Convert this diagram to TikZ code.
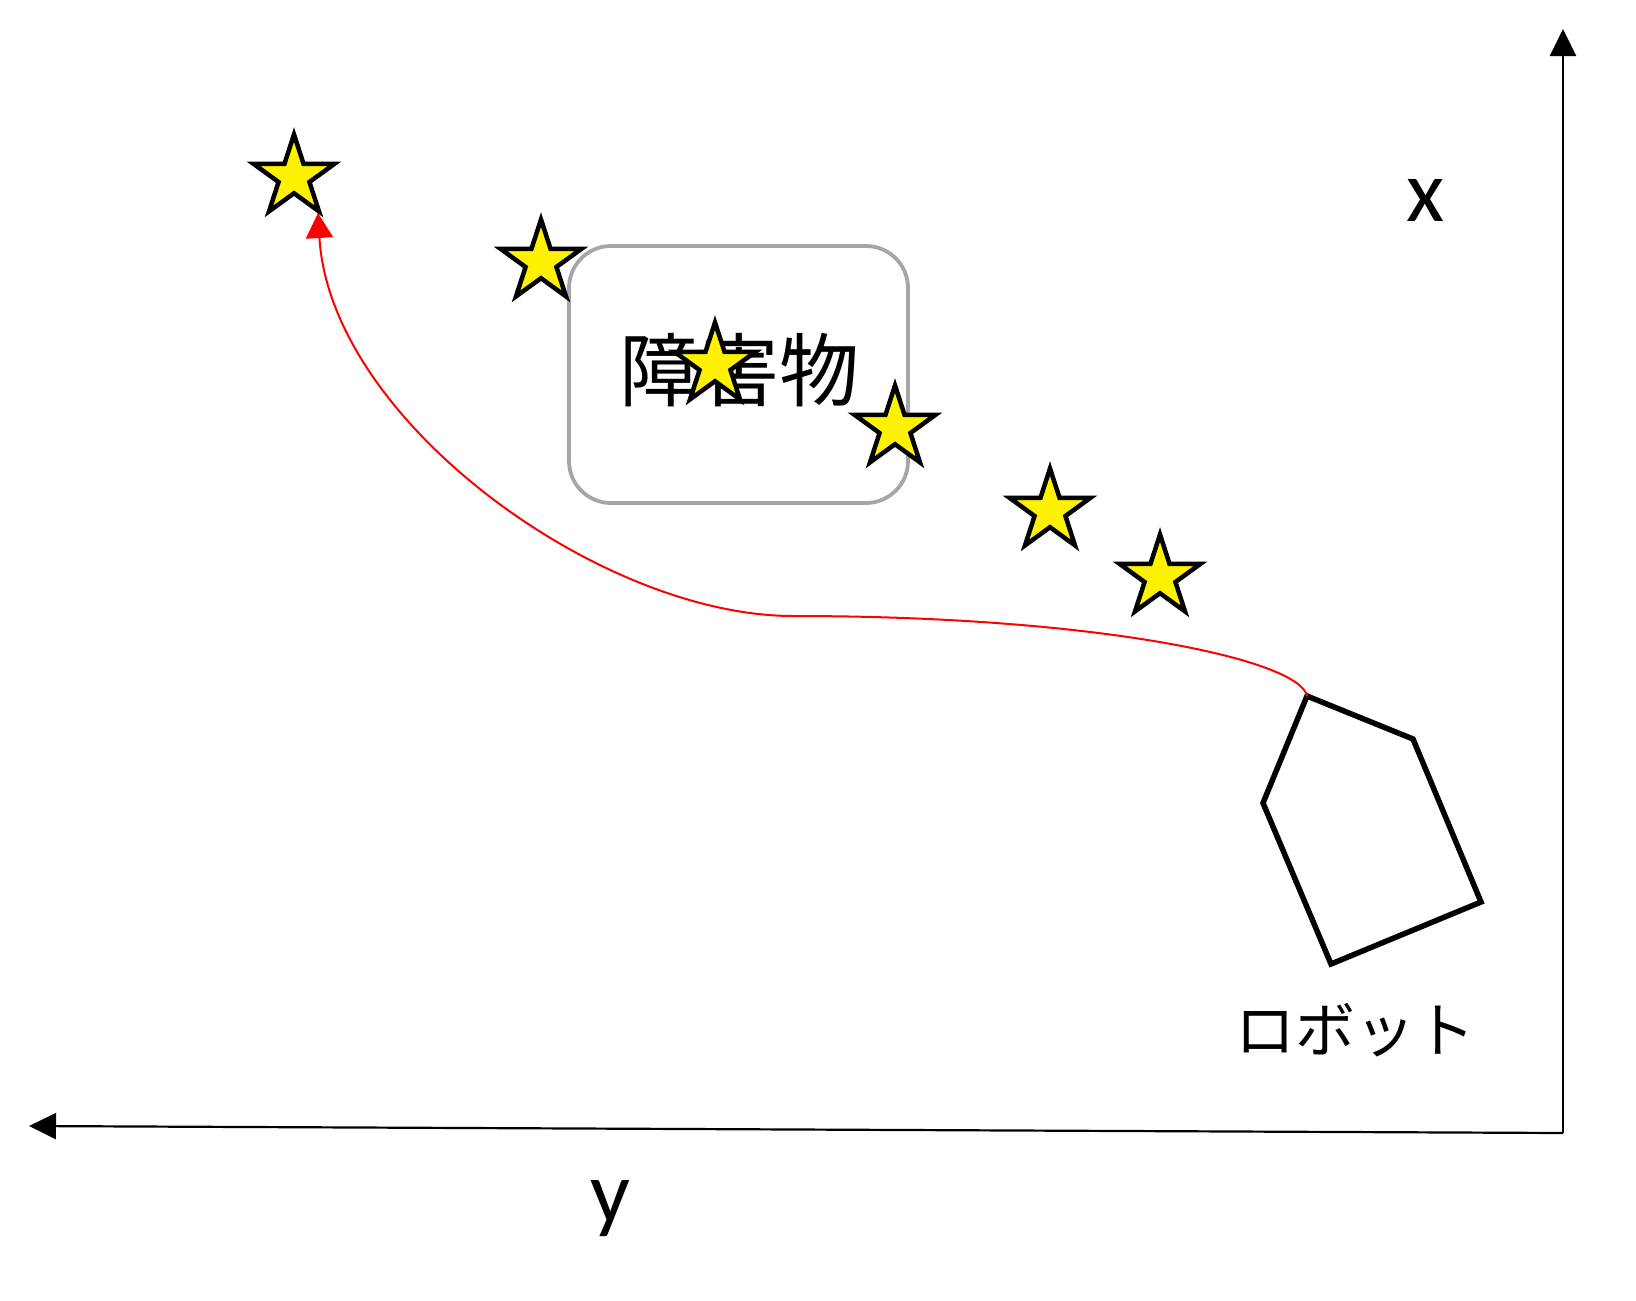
\documentclass[tikz,border=0pt]{standalone}
\usepackage{fontspec}
\setmainfont{Carlito}
\newfontfamily\jpfont{Noto Sans CJK JP}
\usetikzlibrary{arrows.meta,shapes.geometric}
\definecolor{boxgray}{HTML}{A6A6A6}
\tikzset{
  axisline/.style={line width=2.2pt,-{Triangle[length=27pt,width=26pt]}},
  starnode/.style={star,star points=5,star point ratio=2.618,minimum size=85pt,inner sep=0pt,
    draw=black,fill=yellow,line width=4.5pt,line join=miter},
  obstacle/.style={draw=boxgray,line width=3.8pt,rounded corners=42pt},
  robotline/.style={draw=black,line width=5.5pt,line join=miter},
  pathline/.style={draw=red,line width=2pt,-{Triangle[length=25pt,width=27pt]}},
  axislabel/.style={font=\fontsize{88}{88}\selectfont,inner sep=0pt,anchor=base},
  jplabel/.style={inner sep=0pt}
}
\begin{document}
\begin{tikzpicture}[x=1pt,y=-1pt]
\useasboundingbox (0,0) rectangle (1636,1301);
% axes
\coordinate (origin) at (1563,1133);
\coordinate (xend) at (1563,29);
\coordinate (yend) at (29,1126);
\draw[axisline] (origin) -- (xend);
\draw[axisline] (origin) -- (yend);
\node[axislabel] (xlab) at (1426,221) {x};
\node[axislabel] (ylab) at (610,1222) {y};
% obstacle
\draw[obstacle] (569,246) rectangle (908,503);
\node[jplabel,font=\jpfont\fontsize{80}{80}\selectfont] (obs) at (739,370) {障害物};
% robot
\coordinate (r1) at (1307,696);
\coordinate (r2) at (1413,739);
\coordinate (r3) at (1481,902);
\coordinate (r4) at (1331,964);
\coordinate (r5) at (1263,803);
\draw[robotline] (r1) -- (r2) -- (r3) -- (r4) -- (r5) -- cycle;
\node[jplabel,font=\jpfont\fontsize{60}{60}\selectfont] (robot) at (1355,1030) {ロボット};
% path
\coordinate (mid) at (793,616);
\coordinate (goal) at (318,213);
\draw[pathline] (r1) .. controls (1300,660) and (1100,616) .. (mid)
  .. controls (600,616) and (330,420) .. (goal);
% stars
\node[starnode] (s1) at (294,177) {};
\node[starnode] (s2) at (541,262) {};
\node[starnode] (s3) at (715,365) {};
\node[starnode] (s4) at (895,428) {};
\node[starnode] (s5) at (1050,511) {};
\node[starnode] (s6) at (1160,577) {};
\end{tikzpicture}
\end{document}
